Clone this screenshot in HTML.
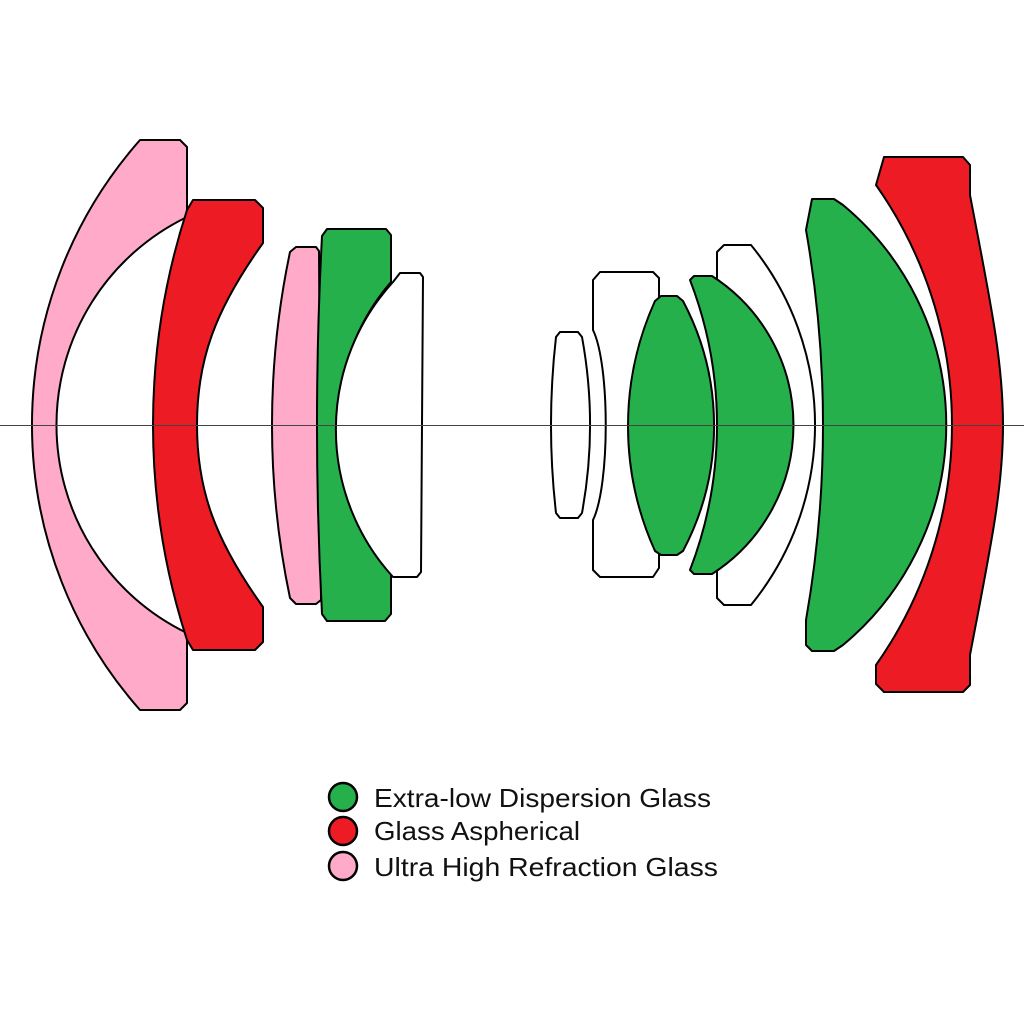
<!DOCTYPE html>
<html><head><meta charset="utf-8"><style>html,body{margin:0;padding:0;background:#fff}svg{display:block}</style></head>
<body>
<svg width="1024" height="1024" viewBox="0 0 1024 1024" xmlns="http://www.w3.org/2000/svg">
<rect width="1024" height="1024" fill="#fff"/>
<g stroke="#000" stroke-width="2" stroke-linejoin="round">
<path d="M148,140 L180,140 L187,147 L187,703 L180,710 L140,710 A430,430 0 0 1 140,140 Z" fill="#FFAAC9"/>
<path d="M187,217 A231,231 0 0 0 187,633 Z" fill="#fff"/>
<path d="M193,200 L255,200 L263,208 L263,243 C215,310 197,360 197,425 C197,490 215,540 263,607 L263,642 L255,650 L193,650 L187,640 A697,697 0 0 1 187,210 Z" fill="#ED1C24"/>
<path d="M296,247 L316,247 L319,251 L321,600 L316,604 L296,604 L290,598 A840,840 0 0 1 290,252 Z" fill="#FFAAC9"/>
<path d="M327,229 L386,229 L391,235 L391,282 A219,219 0 0 0 391,568 L391,614 L385,621 L327,621 L322,614 A3575,3575 0 0 1 322,236 Z" fill="#25B04C"/>
<path d="M393,282 L400,273 L420,273 L423,277 L421,572 L417,577 L393,577 A219,219 0 0 1 393,282 Z" fill="#fff"/>
<path d="M560,332 L578,332 L582,337 A488,488 0 0 1 582,513 L578,518 L560,518 L556,513 A777,777 0 0 1 556,337 Z" fill="#fff"/>
<path d="M600,272 L653,272 L659,278 L659,568 L653,577 L600,577 L593,570 L593,520 C610,485 610,365 593,330 L593,280 Z" fill="#fff"/>
<path d="M661,296 L677,296 L683,301 A267,267 0 0 1 683,551 L677,555 L661,555 L655,551 A303,303 0 0 1 655,301 Z" fill="#25B04C"/>
<path d="M724,245 L751,245 A285,285 0 0 1 751,605 L724,605 L717,598 L717,252 Z" fill="#fff"/>
<path d="M694,276 L712,276 A177,177 0 0 1 712,574 L694,574 L690,570 A403,403 0 0 0 690,280 Z" fill="#25B04C"/>
<path d="M812,199 L834,199 L843,205 A286,286 0 0 1 843,645 L834,651 L812,651 L806,645 L806,620 A1127,1127 0 0 0 806,230 Z" fill="#25B04C"/>
<path d="M884,157 L963,157 L970,165 L970,195 C990,300 1003,360 1003,425 C1003,490 990,550 970,655 L970,685 L963,692 L884,692 L876,684 L876,665 A417,417 0 0 0 876,185 Z" fill="#ED1C24"/>
</g>
<line x1="0" y1="425.5" x2="1024" y2="425.5" stroke="#444" stroke-width="1"/>
<g stroke="#000" stroke-width="2.5">
<circle cx="343" cy="797" r="14" fill="#25B04C"/>
<circle cx="343" cy="831" r="14" fill="#ED1C24"/>
<circle cx="343" cy="866" r="14" fill="#FFAAC9"/>
</g>
<g font-family="Liberation Sans, sans-serif" font-size="26" fill="#111">
<text x="374" y="807" textLength="337" lengthAdjust="spacingAndGlyphs">Extra-low Dispersion Glass</text>
<text x="374" y="840" textLength="206" lengthAdjust="spacingAndGlyphs">Glass Aspherical</text>
<text x="374" y="876" textLength="344" lengthAdjust="spacingAndGlyphs">Ultra High Refraction Glass</text>
</g>
</svg>
</body></html>
